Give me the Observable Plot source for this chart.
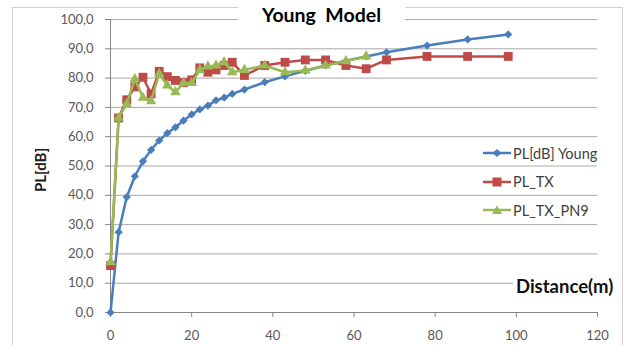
<!DOCTYPE html>
<html>
<head>
<meta charset="utf-8">
<script src="https://cdn.jsdelivr.net/npm/d3@7"></script>
<script src="https://cdn.jsdelivr.net/npm/@observablehq/plot@0.6"></script>
<style>
  html, body { margin: 0; padding: 0; background: #fff; }
  #wrap { position: relative; width: 632px; height: 345px; overflow: hidden; font-family: Lato, "Open Sans", sans-serif; }
  #frame { position: absolute; left: 12px; top: 7px; width: 611px; height: 360px; border: 1.5px solid #d0d0d0; box-sizing: border-box; pointer-events: none; }
  #title { position: absolute; left: 238px; top: 0px; width: 167px; height: 29px; background: #fff; text-align: center; font-weight: 700; font-size: 19.5px; line-height: 30px; color: #000; white-space: pre; }
  #ylab { position: absolute; left: 40px; top: 170px; transform: translate(-50%, -50%) rotate(-90deg); font-weight: 700; font-size: 15px; color: #1a1a1a; white-space: nowrap; }
  #xlab { position: absolute; left: 513px; top: 274px; padding: 0 3px; background: #fff; font-weight: 700; font-size: 18.5px; line-height: 24px; color: #111; white-space: nowrap; }
  #legend { position: absolute; left: 483px; top: 139px; }
  .item { display: flex; align-items: center; height: 28.5px; font-size: 14.5px; color: #404040; }
  .item svg { margin-right: 2px; }
</style>
</head>
<body>
<div id="wrap"></div>
<script>
// ---- data ----
const distYoung = [0, 2, 4, 6, 8, 10, 12, 14, 16, 18, 20, 22, 24, 26, 28, 30, 33, 38, 43, 48, 53, 58, 63, 68, 78, 88, 98];
const plYoung   = [0, 27.4, 39.4, 46.5, 51.6, 55.5, 58.7, 61.2, 63.2, 65.5, 67.6, 69.3, 70.6, 72.4, 73.3, 74.6, 76.1, 78.6, 80.6, 82.5, 84.3, 85.9, 87.4, 88.8, 91.1, 93.2, 94.9];

const distTX = [0, 2, 4, 6, 8, 10, 12, 14, 16, 18, 20, 22, 24, 26, 28, 30, 33, 38, 43, 48, 53, 58, 63, 68, 78, 88, 98];
const plTX   = [16.0, 66.4, 72.6, 77.0, 80.3, 74.6, 82.3, 80.5, 79.2, 78.5, 79.4, 83.5, 82.0, 82.8, 84.3, 85.4, 80.9, 84.3, 85.4, 86.2, 86.2, 84.3, 83.2, 86.2, 87.4, 87.4, 87.4];

const distPN9 = [0, 2, 4, 6, 8, 10, 12, 14, 16, 18, 20, 22, 24, 26, 28, 30, 33, 38, 43, 48, 53, 58, 63];
const plPN9   = [17.2, 66.4, 71.2, 79.7, 73.3, 72.1, 81.5, 77.5, 75.2, 78.3, 78.3, 82.8, 84.0, 84.3, 85.4, 82.0, 82.8, 84.3, 82.0, 82.6, 84.3, 85.8, 87.4];

const seriesNames = ["PL[dB] Young", "PL_TX", "PL_TX_PN9"];
const seriesColors = ["#4a7ebb", "#be4b48", "#98b954"];
const seriesSymbols = ["diamond2", "square", "triangle"];

const xTicks = [0, 20, 40, 60, 80, 100, 120];
const yTicks = [0, 10, 20, 30, 40, 50, 60, 70, 80, 90, 100];

const titleText = "Young  Model";
const yLabelText = "PL[dB]";
const xLabelText = "Distance(m)";

// ---- build tables ----
const young = distYoung.map((d, i) => ({d, v: plYoung[i]}));
const tx = distTX.map((d, i) => ({d, v: plTX[i]}));
const pn9 = distPN9.map((d, i) => ({d, v: plPN9[i]}));
const fmt = v => v.toFixed(1).replace(".", ",");

const chart = Plot.plot({
  width: 632,
  height: 345,
  marginLeft: 110,
  marginRight: 35,
  marginTop: 19,
  marginBottom: 33,
  style: {fontFamily: "Lato, 'Open Sans', sans-serif", fontSize: "13px", background: "transparent"},
  x: {domain: [0, 120]},
  y: {domain: [0, 100]},
  marks: [
    Plot.gridY(yTicks.slice(1), {stroke: "#a9a9a9", strokeOpacity: 1, strokeWidth: 1}),
    Plot.ruleX([0], {stroke: "#868686"}),
    Plot.ruleY([0], {stroke: "#868686"}),
    Plot.axisY(yTicks, {tickSize: 5, tickPadding: 12, tickFormat: fmt, label: null, stroke: "#868686", fill: "#595959"}),
    Plot.axisX(xTicks, {tickSize: 5, tickPadding: 13, label: null, stroke: "#868686", fill: "#595959"}),
    Plot.line(young, {x: "d", y: "v", stroke: seriesColors[0], strokeWidth: 2.5}),
    Plot.dot(young, {x: "d", y: "v", symbol: seriesSymbols[0], r: 3.7, fill: seriesColors[0], stroke: "none"}),
    Plot.line(tx, {x: "d", y: "v", stroke: seriesColors[1], strokeWidth: 2.5}),
    Plot.dot(tx, {x: "d", y: "v", symbol: seriesSymbols[1], r: 5.0, fill: seriesColors[1], stroke: "none"}),
    Plot.line(pn9, {x: "d", y: "v", stroke: seriesColors[2], strokeWidth: 2.5}),
    Plot.dot(pn9, {x: "d", y: "v", symbol: seriesSymbols[2], r: 3.9, fill: seriesColors[2], stroke: "none"})
  ]
});

const wrap = document.getElementById("wrap");
wrap.appendChild(chart);

const frame = document.createElement("div"); frame.id = "frame"; wrap.appendChild(frame);
const title = document.createElement("div"); title.id = "title"; title.textContent = titleText; wrap.appendChild(title);
const ylab = document.createElement("div"); ylab.id = "ylab"; ylab.textContent = yLabelText; wrap.appendChild(ylab);
const xlab = document.createElement("div"); xlab.id = "xlab"; xlab.textContent = xLabelText; wrap.appendChild(xlab);

// legend
const legend = document.createElement("div"); legend.id = "legend";
const symPaths = [
  "M14,2 L18.5,6 L14,10 L9.5,6 Z",
  "M9.5,1.5 H18.5 V10.5 H9.5 Z",
  "M14,1.5 L19,10 L9,10 Z"
];
seriesNames.forEach((name, i) => {
  const item = document.createElement("div"); item.className = "item";
  item.innerHTML = `<svg width="28" height="12" viewBox="0 0 28 12"><line x1="0" y1="6" x2="28" y2="6" stroke="${seriesColors[i]}" stroke-width="2.5"/><path d="${symPaths[i]}" fill="${seriesColors[i]}"/></svg><span>${name}</span>`;
  legend.appendChild(item);
});
wrap.appendChild(legend);
</script>
</body>
</html>
